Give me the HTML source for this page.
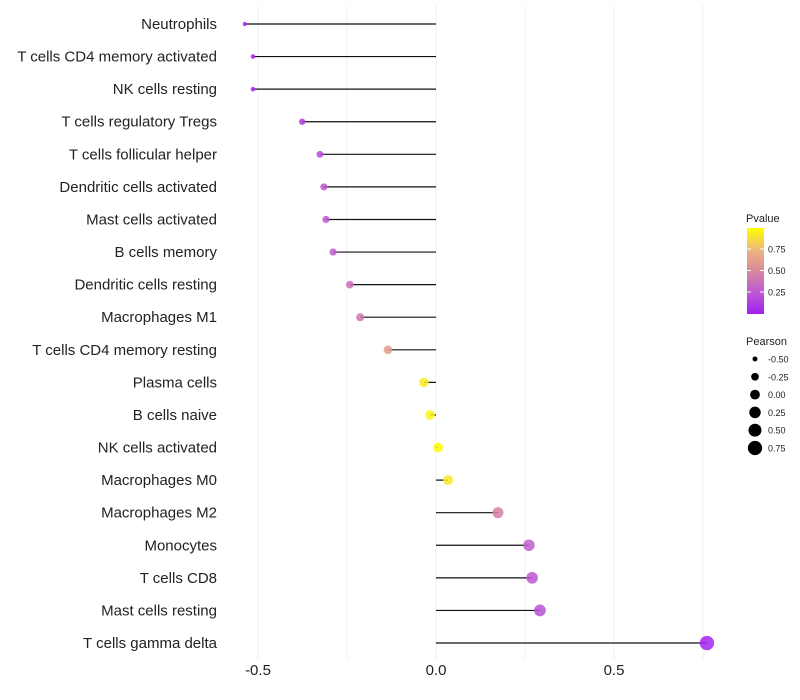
<!DOCTYPE html>
<html><head><meta charset="utf-8"><style>
body{margin:0;background:#fff;font-family:"Liberation Sans",sans-serif;}
svg{display:block}
</style></head><body>
<svg id="chart" width="800" height="700">
<defs><linearGradient id="pg" x1="0" y1="1" x2="0" y2="0">
<stop offset="0" stop-color="#A020F0"/><stop offset="0.25" stop-color="#BE58D2"/>
<stop offset="0.5" stop-color="#D8889E"/><stop offset="0.75" stop-color="#EDB87A"/>
<stop offset="1" stop-color="#FFFF00"/></linearGradient></defs>
<g id="grid"></g><g id="marks"></g><g id="labels"></g>
<g id="legend"></g>
</svg>
<script>
const categories=["Neutrophils","T cells CD4 memory activated","NK cells resting","T cells regulatory  Tregs","T cells follicular helper","Dendritic cells activated","Mast cells activated","B cells memory","Dendritic cells resting","Macrophages M1","T cells CD4 memory resting","Plasma cells","B cells naive","NK cells activated","Macrophages M0","Macrophages M2","Monocytes","T cells CD8","Mast cells resting","T cells gamma delta"];
const pearson=[-0.537,-0.514,-0.514,-0.376,-0.326,-0.315,-0.309,-0.289,-0.242,-0.213,-0.135,-0.034,-0.017,0.006,0.034,0.174,0.261,0.270,0.292,0.761];
const pvalue=[0.03,0.05,0.05,0.13,0.2,0.23,0.24,0.28,0.36,0.4,0.62,0.93,0.96,0.99,0.92,0.46,0.28,0.25,0.22,0.02];
const xTicks=[-0.5,0,0.5];
const xTickLabels=["-0.5","0.0","0.5"];
const gridVals=[-0.5,-0.25,0,0.25,0.5,0.75];
const pTicks=[0.25,0.5,0.75];
const sizeBreaks=[-0.5,-0.25,0,0.25,0.5,0.75];
const NS="http://www.w3.org/2000/svg";
function mk(t,a,p){const e=document.createElementNS(NS,t);for(const k in a)e.setAttribute(k,a[k]);p.appendChild(e);return e;}
const xS=v=>436+v*356;
const yS=i=>24+i*(643-24)/19;
const rS=p=>Math.sqrt(Math.max(1,24+36*p));
const stops=[[0,[160,32,240]],[0.25,[190,88,210]],[0.5,[216,136,158]],[0.75,[237,184,122]],[1,[255,255,0]]];
function col(p){for(let i=1;i<stops.length;i++){if(p<=stops[i][0]){const a=stops[i-1],b=stops[i],t=(p-a[0])/(b[0]-a[0]);return "rgb("+a[1].map((c,j)=>Math.round(c+(b[1][j]-c)*t)).join(",")+")";}}return "rgb(255,255,0)";}
const grid=document.getElementById('grid'),marks=document.getElementById('marks'),labels=document.getElementById('labels'),lg=document.getElementById('legend');
gridVals.forEach(v=>{const l=mk('line',{x1:xS(v),x2:xS(v),y1:5,y2:660,stroke:'#f0f0f0','stroke-width':1},grid);

});
xTicks.forEach((v,i)=>{const t=mk('text',{x:xS(v),y:675,'text-anchor':'middle','font-size':15,fill:'#222'},labels);t.textContent=xTickLabels[i];

});
categories.forEach((c,i)=>{const y=yS(i);
const t=mk('text',{x:217,y:y+5,'text-anchor':'end','font-size':15,fill:'#222'},labels);t.textContent=c;


const l=mk('line',{x1:xS(0),x2:xS(pearson[i]),y1:y,y2:y,stroke:'#111','stroke-width':1.2},marks);


const d=mk('circle',{cx:xS(pearson[i]),cy:y,r:rS(pearson[i]),fill:col(pvalue[i]),'fill-opacity':0.85},marks);

});
let t=mk('text',{x:746,y:222,'font-size':11,fill:'#222'},lg);t.textContent='Pvalue';


const cb=mk('rect',{x:747,y:228,width:17,height:86,fill:'url(#pg)'},lg);


const pY=p=>313.5-p*86;
pTicks.forEach(p=>{mk('line',{x1:747,x2:751,y1:pY(p),y2:pY(p),stroke:'#fff'},lg);mk('line',{x1:760,x2:764,y1:pY(p),y2:pY(p),stroke:'#fff'},lg);
const tt=mk('text',{x:768,y:pY(p)+3.5,'font-size':9,fill:'#222'},lg);tt.textContent=p.toFixed(2);

});
t=mk('text',{x:746,y:345,'font-size':11,fill:'#222'},lg);t.textContent='Pearson';


sizeBreaks.forEach((s,i)=>{const y=359+i*17.8;const c=mk('circle',{cx:755,cy:y,r:rS(s),fill:'#000'},lg);


const tt=mk('text',{x:768,y:y+3.5,'font-size':9,fill:'#222'},lg);tt.textContent=s.toFixed(2);

});
</script>
</body></html>
